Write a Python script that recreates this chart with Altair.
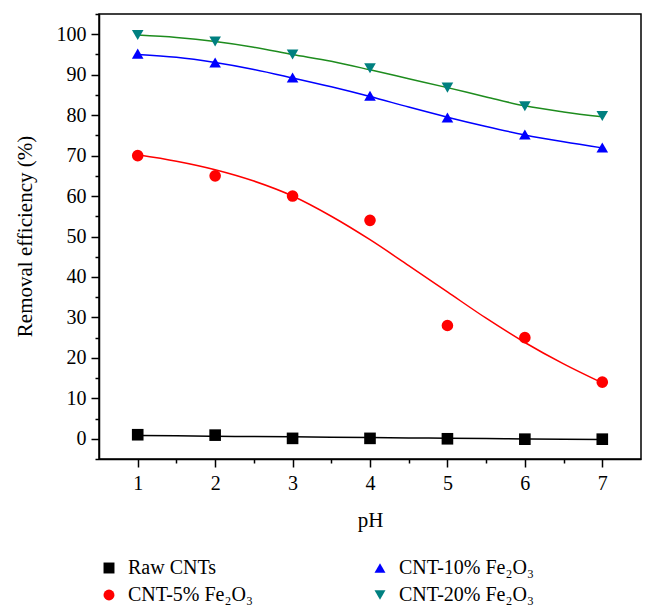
import altair as alt
import pandas as pd

# measured points
pH = [1, 2, 3, 4, 5, 6, 7]
raw_cnts = [1.0, 0.9, 0.1, 0.1, 0.0, -0.1, -0.1]
cnt_5 = [70.0, 65.0, 60.0, 54.0, 28.0, 25.0, 14.0]
cnt_10 = [95.2, 93.0, 89.3, 84.8, 79.4, 75.2, 72.0]
cnt_20 = [99.8, 98.2, 95.0, 91.6, 86.8, 82.2, 79.8]

# fitted curves at half-unit steps
fit_pH = [1, 1.5, 2, 2.5, 3, 3.5, 4, 4.5, 5, 5.5, 6, 6.5, 7]
raw_fit = [0.8, 0.72, 0.63, 0.55, 0.47, 0.38, 0.3, 0.22, 0.13, 0.05, -0.03, -0.12, -0.2]
cnt_5_fit = [70.2, 68.6, 66.5, 63.7, 60.0, 55.0, 49.2, 42.8, 36.3, 29.8, 23.8, 18.5, 13.8]
cnt_10_fit = [95.0, 94.3, 93.0, 91.3, 89.2, 87.0, 84.6, 82.0, 79.5, 77.2, 75.1, 73.4, 71.9]
cnt_20_fit = [99.8, 99.2, 98.2, 96.8, 95.0, 93.3, 91.2, 89.0, 86.8, 84.5, 82.3, 80.8, 79.6]

series = ["Raw CNTs", "CNT-5% Fe₂O₃", "CNT-10% Fe₂O₃", "CNT-20% Fe₂O₃"]
marker_colors = ["#000000", "#ff0000", "#0000ff", "#008080"]
line_colors = ["#000000", "#ff0000", "#0000ff", "#1e8c1e"]
shapes = ["square", "circle", "triangle-up", "triangle-down"]

pts_vals = {series[0]: raw_cnts, series[1]: cnt_5, series[2]: cnt_10, series[3]: cnt_20}
fit_vals = {series[0]: raw_fit, series[1]: cnt_5_fit, series[2]: cnt_10_fit, series[3]: cnt_20_fit}

pts = pd.DataFrame([
    {"series": s, "pH": x, "value": v}
    for s in series for x, v in zip(pH, pts_vals[s])
])

FONT = "Liberation Serif"
FS = 20

x_ticks = [1, 1.5, 2, 2.5, 3, 3.5, 4, 4.5, 5, 5.5, 6, 6.5, 7]
y_ticks = [-5, 0, 5, 10, 15, 20, 25, 30, 35, 40, 45, 50, 55, 60, 65, 70, 75, 80, 85, 90, 95, 100, 105]

x_enc = alt.X(
    "pH:Q",
    scale=alt.Scale(domain=[0.5, 7.5], nice=False, zero=False),
    axis=alt.Axis(
        title="pH",
        values=x_ticks,
        labelExpr="datum.value % 1 === 0 ? format(datum.value, 'd') : ''",
        tickSize={"condition": {"test": "datum.value % 1 === 0", "value": 8}, "value": 4},
        grid=False,
        labelPadding=6,
        labelOverlap=False,
        labelFlush=False,
        labelFont=FONT,
        labelFontSize=FS,
        titleY=61,
        titleBaseline="middle",
        titleFontSize=21,
    ),
)
y_enc = alt.Y(
    "value:Q",
    scale=alt.Scale(domain=[-5, 105], nice=False, zero=False),
    axis=alt.Axis(
        title="Removal efficiency (%)",
        values=y_ticks,
        labelExpr="datum.value % 10 === 0 ? format(datum.value, 'd') : ''",
        tickSize={"condition": {"test": "datum.value % 10 === 0", "value": 8}, "value": 4},
        grid=False,
        labelPadding=5,
        labelOverlap=False,
        labelFlush=False,
        labelFont=FONT,
        labelFontSize=FS,
        titleX=-74,
        titleY=222,
        titleAngle=-90,
        titleAlign="center",
        titleBaseline="middle",
        titleFontSize=21,
    ),
)

layers = []
for s, lc in zip(series, line_colors):
    df = pd.DataFrame({"pH": fit_pH, "value": fit_vals[s]})
    layers.append(
        alt.Chart(df).mark_line(strokeWidth=1.5, interpolate="monotone", color=lc).encode(
            x=x_enc, y=y_enc
        )
    )

points = alt.Chart(pts).mark_point(filled=True, opacity=1, size=135).encode(
    x=x_enc,
    y=y_enc,
    color=alt.Color(
        "series:N",
        scale=alt.Scale(domain=series, range=marker_colors),
        legend=alt.Legend(
            title=None,
            orient="none",
            legendX=0,
            legendY=544,
            columns=2,
            columnPadding=117,
            rowPadding=7,
            symbolSize=120,
            labelOffset=9,
            labelFontSize=FS,
            labelFont=FONT,
            labelColor="#000000",
        ),
    ),
    shape=alt.Shape("series:N", scale=alt.Scale(domain=series, range=shapes)),
)
layers.append(points)

chart = (
    alt.layer(*layers)
    .properties(
        width=542,
        height=445,
        autosize=alt.AutoSizeParams(type="none"),
        padding={"left": 91, "top": 6, "right": 7, "bottom": 150},
    )
    .configure_view(stroke="#000000", strokeWidth=1.5)
    .configure_axis(
        domainColor="#000000",
        domainWidth=1.5,
        tickColor="#000000",
        tickWidth=1.5,
        labelFont=FONT,
        labelFontSize=FS,
        labelColor="#000000",
        titleFont=FONT,
        titleFontSize=21,
        titleFontWeight="normal",
        titleColor="#000000",
    )
)

chart.save("out.html", embed_options={"renderer": "svg", "actions": False})
